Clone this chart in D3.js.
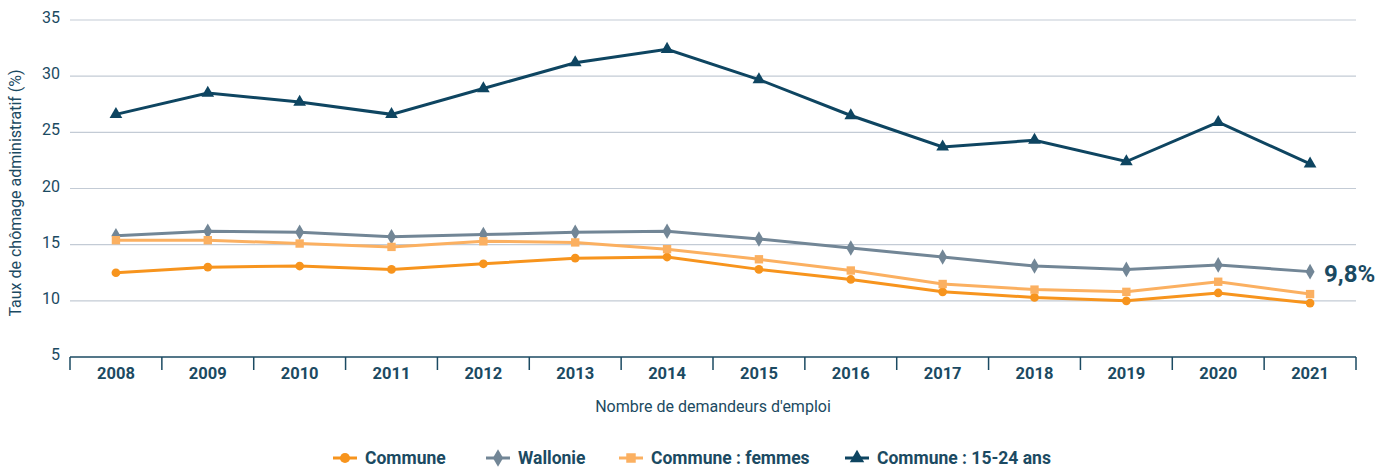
<!DOCTYPE html>
<html>
<head>
<meta charset="utf-8">
<script src="https://cdn.jsdelivr.net/npm/d3@7"></script>
<style>
  body { margin: 0; background: #fff; }
  svg text { font-family: Roboto, "Noto Sans", sans-serif; fill: #1b4a62; }
</style>
</head>
<body>
<svg id="chart" width="1395" height="468"></svg>
<script>
// values
const years = ['2008', '2009', '2010', '2011', '2012', '2013', '2014', '2015', '2016', '2017', '2018', '2019', '2020', '2021'];
const commune = [12.5, 13.0, 13.1, 12.8, 13.3, 13.8, 13.9, 12.8, 11.9, 10.8, 10.3, 10.0, 10.7, 9.8];
const wallonie = [15.8, 16.2, 16.1, 15.7, 15.9, 16.1, 16.2, 15.5, 14.7, 13.9, 13.1, 12.8, 13.2, 12.6];
const femmes = [15.4, 15.4, 15.1, 14.8, 15.3, 15.2, 14.6, 13.7, 12.7, 11.5, 11.0, 10.8, 11.7, 10.6];
const jeunes = [26.6, 28.5, 27.7, 26.6, 28.9, 31.2, 32.4, 29.7, 26.5, 23.7, 24.3, 22.4, 25.9, 22.2];
const yTicks = [5, 10, 15, 20, 25, 30, 35];

const series = [
  { name: 'Commune', values: commune, color: '#f7941d', symbol: d3.symbolCircle, size: 60 },
  { name: 'Wallonie', values: wallonie, color: '#728696', symbol: d3.symbolDiamond, size: 70 },
  { name: 'Commune : femmes', values: femmes, color: '#fbb061', symbol: d3.symbolSquare, size: 70 },
  { name: 'Commune : 15-24 ans', values: jeunes, color: '#0e4561', symbol: d3.symbolTriangle, size: 70 }
];

const svg = d3.select('#chart');
const mLeft = 70, mRight = 1356, mTop = 20, mBottom = 357;

const x = d3.scaleBand().domain(years).range([mLeft, mRight]);
const y = d3.scaleLinear().domain([5, 35]).range([mBottom, mTop]);

// gridlines
svg.append('g')
  .selectAll('line')
  .data(yTicks.filter(t => t > 5))
  .enter()
  .append('line')
  .attr('x1', mLeft)
  .attr('x2', mRight)
  .attr('y1', d => y(d))
  .attr('y2', d => y(d))
  .attr('stroke', '#c3cbd5')
  .attr('stroke-width', 1.2);

// y tick labels
svg.append('g')
  .selectAll('text')
  .data(yTicks)
  .enter()
  .append('text')
  .attr('x', 60)
  .attr('y', d => y(d) + 3)
  .attr('text-anchor', 'end')
  .attr('font-size', 16)
  .text(d => d);

// x axis
const xAxis = svg.append('g')
  .attr('transform', 'translate(0,' + mBottom + ')');
xAxis.append('line')
  .attr('x1', mLeft).attr('x2', mRight)
  .attr('stroke', '#1b4a62').attr('stroke-width', 1.5);
xAxis.selectAll('line.tick')
  .data(years.map(d => x(d)).concat([mRight]))
  .enter()
  .append('line')
  .attr('class', 'tick')
  .attr('x1', d => d).attr('x2', d => d)
  .attr('y1', 0).attr('y2', 13)
  .attr('stroke', '#1b4a62').attr('stroke-width', 1.5);
xAxis.selectAll('text')
  .data(years)
  .enter()
  .append('text')
  .attr('x', d => x(d) + x.bandwidth() / 2)
  .attr('y', 22)
  .attr('text-anchor', 'middle')
  .attr('font-size', 16.5)
  .attr('font-weight', 'bold')
  .text(d => d);

// axis titles
svg.append('text')
  .attr('x', (mLeft + mRight) / 2)
  .attr('y', 412)
  .attr('text-anchor', 'middle')
  .attr('font-size', 16)
  .text("Nombre de demandeurs d'emploi");

svg.append('text')
  .attr('transform', 'translate(21,' + 193 + ') rotate(-90)')
  .attr('text-anchor', 'middle')
  .attr('font-size', 16)
  .text('Taux de chômage administratif (%)');

// lines and markers
const line = d3.line()
  .x((d, i) => x(years[i]) + x.bandwidth() / 2)
  .y(d => y(d));

series.forEach(s => {
  const g = svg.append('g');
  g.append('path')
    .datum(s.values)
    .attr('d', line)
    .attr('fill', 'none')
    .attr('stroke', s.color)
    .attr('stroke-width', 3);
  g.selectAll('path.pt')
    .data(s.values)
    .enter()
    .append('path')
    .attr('class', 'pt')
    .attr('d', d3.symbol().type(s.symbol).size(s.size))
    .attr('transform', (d, i) => 'translate(' + (x(years[i]) + x.bandwidth() / 2) + ',' + y(d) + ')')
    .attr('fill', s.color);
});

// end label
svg.append('text')
  .attr('x', 1324)
  .attr('y', 282)
  .attr('font-size', 24)
  .attr('font-weight', 'bold')
  .text('9,8%');

// legend
const legendX = [333, 486, 619, 845];
const legend = svg.append('g').attr('transform', 'translate(0,458)');
series.forEach((s, i) => {
  const g = legend.append('g').attr('transform', 'translate(' + legendX[i] + ',0)');
  g.append('line')
    .attr('x1', 0).attr('x2', 24)
    .attr('stroke', s.color).attr('stroke-width', 3);
  g.append('path')
    .attr('d', d3.symbol().type(s.symbol).size(s.size + 20))
    .attr('transform', 'translate(12,0)')
    .attr('fill', s.color);
  g.append('text')
    .attr('x', 32)
    .attr('y', 6)
    .attr('font-size', 17.5)
    .attr('font-weight', 'bold')
    .text(s.name);
});
</script>
</body>
</html>
